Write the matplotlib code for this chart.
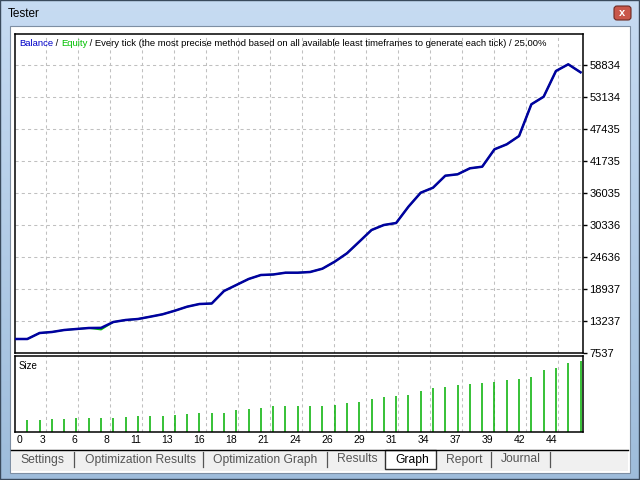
import numpy as np
import matplotlib
matplotlib.use('Agg')
import matplotlib.pyplot as plt
from matplotlib.patches import Rectangle, FancyBboxPatch
from matplotlib.transforms import blended_transform_factory

W, H = 640, 480

# balance after each trade (trade 0 = start)
trades = np.arange(47)
balance = [9977, 9977, 11046, 11224, 11580, 11759, 11937, 11960, 13006, 13362,
           13540, 13950, 14377, 15018, 15731, 16211, 16300, 18527, 19596, 20665,
           21377, 21466, 21787, 21787, 21911, 22499, 23746, 25242, 27308, 29392,
           30283, 30639, 33542, 36036, 36927, 39064, 39314, 40382, 40667, 43767,
           44657, 46136, 51782, 53135, 57714, 58907, 57482]
equity = list(balance)
equity[7] = 11650

# lot size of each trade
lot_trades = np.arange(1, 47)
lots = [0.12, 0.12, 0.13, 0.13, 0.14, 0.14, 0.14, 0.14, 0.15, 0.16,
        0.16, 0.16, 0.17, 0.18, 0.19, 0.19, 0.19, 0.22, 0.23, 0.24,
        0.26, 0.26, 0.26, 0.26, 0.26, 0.27, 0.29, 0.30, 0.33, 0.35,
        0.36, 0.37, 0.41, 0.44, 0.45, 0.47, 0.48, 0.49, 0.50, 0.52,
        0.53, 0.55, 0.62, 0.64, 0.69, 0.71]

y_ticks = [7537, 13237, 18937, 24636, 30336, 36035, 41735, 47435, 53134, 58834]
x_labels = ['3', '6', '8', '11', '13', '16', '18', '21', '24', '26', '29',
            '31', '34', '37', '39', '42', '44']
tab_names = ['Settings', 'Optimization Results', 'Optimization Graph',
             'Results', 'Graph', 'Report', 'Journal']

plt.rcParams['font.family'] = ['Liberation Sans', 'DejaVu Sans']

BLUE = '#0000a0'
GREEN = '#00b000'
GRID = '#c0c0c0'


def rect(x0, y0, x1, y1):
    return [x0 / W, 1 - y1 / H, (x1 - x0) / W, (y1 - y0) / H]


fig = plt.figure(figsize=(6.4, 4.8), dpi=100)

# window chrome
bg = fig.add_axes([0, 0, 1, 1], zorder=0)
bg.set_xlim(0, W)
bg.set_ylim(H, 0)
bg.axis('off')
grad = np.linspace(0, 1, 256).reshape(-1, 1)
top_c = np.array([0.78, 0.86, 0.95])
bot_c = np.array([0.62, 0.74, 0.86])
img = top_c + (bot_c - top_c) * grad[..., None]
img = np.repeat(img, 2, axis=1)
bg.imshow(img, extent=[0, W, H, 0], aspect='auto')
bg.add_patch(Rectangle((0, 0), W - 1, H - 1, fill=False, ec='#3a4a5c', lw=1))
bg.add_patch(Rectangle((9.5, 25.5), 620, 447, fc='white', ec='#7d8ea3', lw=0.8))
bg.add_patch(Rectangle((11, 450), 617, 21, fc='#f0f0f0', ec='none'))
bg.plot([11, 628], [450, 450], color='black', lw=1)
bg.add_patch(Rectangle((384.5, 449.5), 51.5, 19.5, fc='white', ec='#303030', lw=1))
bg.text(8, 14, 'Tester', fontsize=8.5, va='center', ha='left', color='black')
bg.add_patch(FancyBboxPatch((614, 6), 17, 14, boxstyle='round,pad=0,rounding_size=3',
                            fc='#c9574a', ec='#6e2a22', lw=0.8))
bg.text(622.5, 13, 'x', fontsize=8, color='white', ha='center', va='center',
        fontweight='bold')

tab_x = [20, 85, 213, 337, 395, 446, 501]
sep_x = [74, 203, 327, 491, 550]
for name, tx in zip(tab_names, tab_x):
    bg.text(tx, 459.5, name, fontsize=8.7, va='center', ha='left',
            color='black' if name == 'Graph' else '#555555')
for sx in sep_x:
    bg.plot([sx, sx], [452, 467], color='#555555', lw=0.9)

# grid positions along the trade axis
x_grid = 2.52 + 2.604 * np.arange(len(x_labels))
x_lim = (-0.025, 46.2)

# balance / equity panel
ax = fig.add_axes(rect(14.7, 34, 583, 352.7), zorder=2)
ax.set_facecolor('white')
ax.set_xlim(*x_lim)
ax.set_ylim(7537, 64304)
for xg in x_grid:
    ax.axvline(xg, color=GRID, lw=0.75, ls=(0, (3, 3)), zorder=1)
for yt in y_ticks[1:]:
    ax.axhline(yt, color=GRID, lw=0.75, ls=(0, (3, 3)), zorder=1)
ax.plot(trades, equity, color='#00c000', lw=1.2, zorder=2)
ax.plot(trades, balance, color=BLUE, lw=1.8, zorder=3, solid_joinstyle='round')
ax.set_xticks([])
ax.set_yticks(y_ticks)
ax.set_yticklabels([str(v) for v in y_ticks])
ax.tick_params(axis='y', left=False, labelleft=False, right=True, labelright=True,
               direction='out', length=3, width=1, pad=1.5, labelsize=8)
for s in ax.spines.values():
    s.set_linewidth(1.1)
    s.set_color('black')

# title made of coloured pieces
pieces = [('Balance', '#0000c8'), (' / ', 'black'), ('Equity', '#00c000'),
          (' / Every tick (the most precise method based on all available least '
           'timeframes to generate each tick) / 25.00%', 'black')]
fig.canvas.draw()
renderer = fig.canvas.get_renderer()
xpos = 19
for txt, col in pieces:
    t = fig.text(xpos / W, 1 - 44 / H, txt, color=col, fontsize=6.8, va='center',
                 ha='left', zorder=5)
    bb = t.get_window_extent(renderer)
    xpos = bb.x1

# size panel
sz = fig.add_axes(rect(14.7, 355.7, 583, 431.7), zorder=2)
sz.set_facecolor('white')
sz.set_xlim(*x_lim)
sz.set_ylim(0, 0.76)
for xg in x_grid:
    sz.axvline(xg, color=GRID, lw=0.75, ls=(0, (3, 3)), zorder=1)
sz.vlines(lot_trades, 0, lots, color=GREEN, lw=1.1, zorder=2)
sz.set_xticks([])
sz.set_yticks([])
for s in sz.spines.values():
    s.set_linewidth(1.1)
    s.set_color('black')
sz.text(0.006, 0.93, 'Size', transform=sz.transAxes, fontsize=7, va='top', ha='left')

trans = blended_transform_factory(sz.transData, sz.transAxes)
sz.text(0.1, -0.04, '0', transform=trans, fontsize=7.5, ha='left', va='top')
for xg, lab in zip(x_grid, x_labels):
    sz.text(xg - 0.08, -0.04, lab, transform=trans, fontsize=7.5, ha='right', va='top')

fig.savefig('out.png', dpi=100)
